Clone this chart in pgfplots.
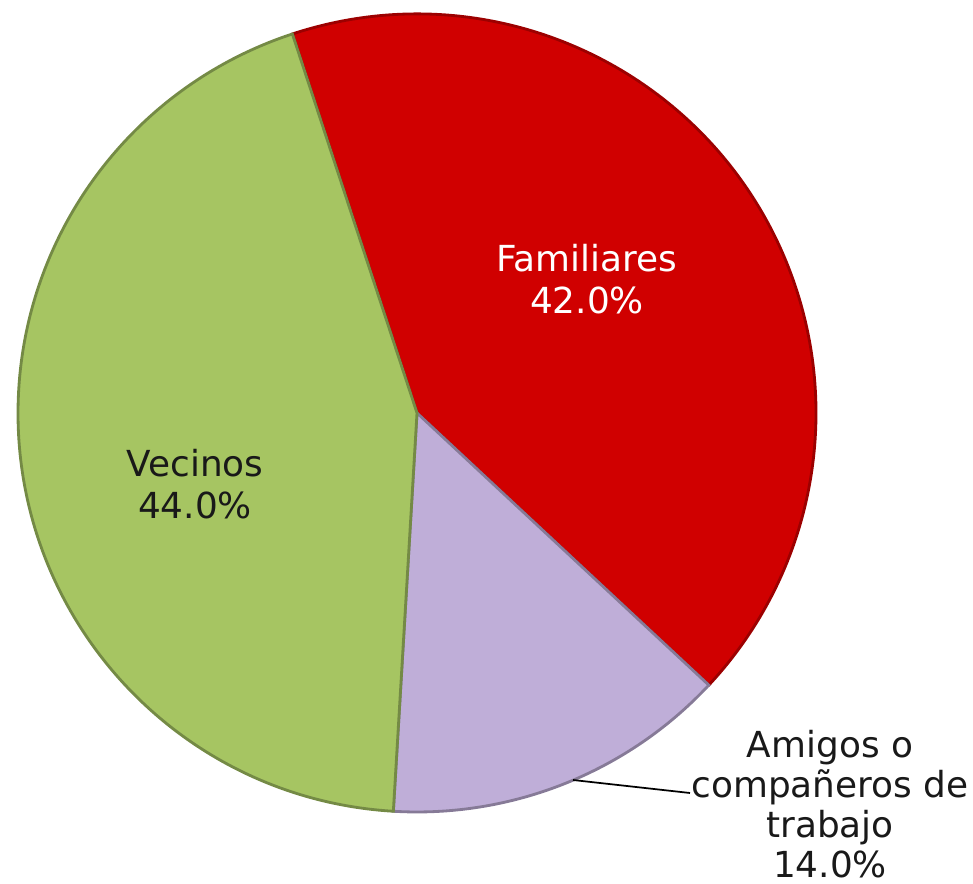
\documentclass[border=0pt]{standalone}
\usepackage{pgfplots}
\pgfplotsset{compat=1.18}
\usepackage{pgfplotstable}
\usepackage{fontspec}
\setmainfont{DejaVu Sans}

\definecolor{famred}{HTML}{D00000}
\definecolor{vecgreen}{HTML}{A6C562}
\definecolor{amilav}{HTML}{BFAED8}

% share of each group (percent)
\pgfplotstableread{
label      value
Familiares 42.0
Amigos     14.0
Vecinos    44.0
}\piedata

\pgfplotstablegetelem{0}{value}\of\piedata \let\vFam\pgfplotsretval
\pgfplotstablegetelem{1}{value}\of\piedata \let\vAmi\pgfplotsretval
\pgfplotstablegetelem{2}{value}\of\piedata \let\vVec\pgfplotsretval

% slices run clockwise from 108.2 degrees
\pgfmathsetmacro\aStart{108.2}
\pgfmathsetmacro\aFam{\aStart-3.6*\vFam}
\pgfmathsetmacro\aAmi{\aFam-3.6*\vAmi}
\pgfmathsetmacro\aVec{\aAmi-3.6*\vVec}

\def\cx{417}
\def\cy{470}
\def\R{3.99cm}

\begin{document}
\begin{tikzpicture}
\begin{axis}[
    width=9.73cm, height=8.83cm, scale only axis,
    xmin=0, xmax=973, ymin=0, ymax=883,
    hide axis, clip=false,
  ]
  \fill[famred, draw=famred!75!black, line width=0.8pt]
    (axis cs:\cx,\cy) -- ++(\aStart:\R) arc[start angle=\aStart, end angle=\aFam, radius=\R] -- cycle;
  \fill[amilav, draw=amilav!70!black, line width=0.8pt]
    (axis cs:\cx,\cy) -- ++(\aFam:\R) arc[start angle=\aFam, end angle=\aAmi, radius=\R] -- cycle;
  \fill[vecgreen, draw=vecgreen!70!black, line width=0.8pt]
    (axis cs:\cx,\cy) -- ++(\aAmi:\R) arc[start angle=\aAmi, end angle=\aVec, radius=\R] -- cycle;

  \draw[black, line width=0.5pt] (axis cs:573,103) -- (axis cs:690,90);

  \node[align=center, text=white, font=\fontsize{10.2}{11.9}\selectfont]
    at (axis cs:587,604) {Familiares\\42.0\%};
  \node[align=center, text=black!90, font=\fontsize{10.2}{11.9}\selectfont]
    at (axis cs:195,399) {Vecinos\\44.0\%};
  \node[align=center, text=black!90, font=\fontsize{10.2}{11.4}\selectfont, inner sep=0pt]
    at (axis cs:830,79) {Amigos o\\compañeros de\\trabajo\\14.0\%};
\end{axis}
\pgfresetboundingbox
\path (current axis.south west) rectangle (current axis.north east);
\end{tikzpicture}
\end{document}
